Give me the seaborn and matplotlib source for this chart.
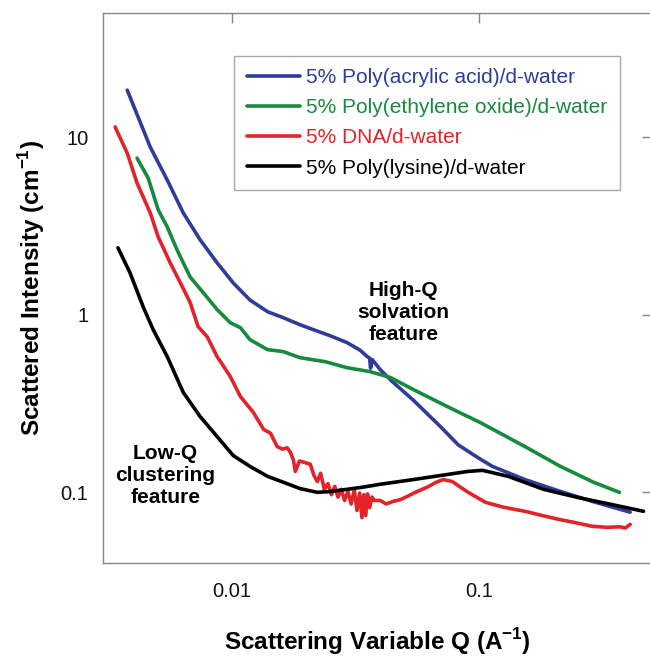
import seaborn as sns
import matplotlib.pyplot as plt
import pandas as pd

# Poly(acrylic acid)
q_paa = [0.00376, 0.00466, 0.00546, 0.00634, 0.00742, 0.00869, 0.0101, 0.0118, 0.0139, 0.0161,
         0.0188, 0.0213, 0.0250, 0.0292, 0.0330, 0.0352, 0.0360, 0.0363, 0.0369, 0.0397,
         0.0445, 0.0541, 0.0695, 0.0822, 0.100, 0.113, 0.153, 0.209, 0.286, 0.408]
i_paa = [18.4, 8.79, 5.73, 3.74, 2.64, 1.96, 1.51, 1.21, 1.04, 0.962,
         0.879, 0.824, 0.76, 0.696, 0.63, 0.581, 0.57, 0.50, 0.559, 0.491,
         0.42, 0.33, 0.235, 0.185, 0.155, 0.140, 0.118, 0.102, 0.089, 0.0773]

# Poly(ethylene oxide)
q_peo = [0.00412, 0.00457, 0.00502, 0.00546, 0.00598, 0.00676, 0.00764, 0.00869, 0.00982, 0.0108,
         0.0118, 0.0139, 0.0161, 0.0188, 0.0238, 0.0292, 0.0362, 0.0437, 0.0541, 0.0742,
         0.101, 0.153, 0.213, 0.290, 0.369]
i_peo = [7.62, 5.88, 3.89, 3.12, 2.32, 1.63, 1.33, 1.07, 0.902, 0.845,
         0.724, 0.636, 0.620, 0.573, 0.544, 0.503, 0.478, 0.443, 0.379, 0.304,
         0.247, 0.181, 0.140, 0.114, 0.100]

# DNA
q_dna = [0.00336, 0.00376, 0.00412, 0.00466, 0.00502, 0.00561, 0.00628, 0.00676, 0.00728, 0.00792,
         0.00869, 0.00982, 0.0108, 0.0122, 0.0134, 0.0143, 0.0152, 0.0160, 0.0167, 0.0172,
         0.0177, 0.0180, 0.0187, 0.0194, 0.0207, 0.0214, 0.0221, 0.0228, 0.0236, 0.0244,
         0.0252, 0.0260, 0.0268, 0.0276, 0.0285, 0.0294, 0.0303, 0.0312, 0.0320, 0.0328,
         0.0335, 0.0341, 0.0347, 0.0353, 0.0360, 0.0368, 0.0376, 0.0397, 0.0420, 0.0449,
         0.0480, 0.0512, 0.0560, 0.0616, 0.0670, 0.0715, 0.0778, 0.0830, 0.0902, 0.106,
         0.125, 0.153, 0.180, 0.209, 0.245, 0.286, 0.330, 0.370, 0.390, 0.408]
i_dna = [11.4, 8.13, 5.52, 3.74, 2.74, 1.96, 1.44, 1.17, 0.857, 0.752,
         0.581, 0.449, 0.346, 0.281, 0.226, 0.215, 0.181, 0.175, 0.178, 0.168,
         0.152, 0.131, 0.150, 0.148, 0.144, 0.125, 0.115, 0.128, 0.104, 0.112,
         0.097, 0.108, 0.094, 0.104, 0.090, 0.101, 0.086, 0.103, 0.079, 0.099,
         0.072, 0.097, 0.074, 0.098, 0.082, 0.094, 0.090, 0.090, 0.086, 0.089,
         0.091, 0.095, 0.101, 0.107, 0.114, 0.118, 0.115, 0.108, 0.100, 0.0878,
         0.0825, 0.0782, 0.0740, 0.0705, 0.0675, 0.0644, 0.0635, 0.0640, 0.0630, 0.0660]

# Poly(lysine)
q_pl = [0.00345, 0.00386, 0.00436, 0.00479, 0.00546, 0.00634, 0.00742, 0.00869, 0.0101, 0.0118,
        0.0139, 0.0161, 0.0188, 0.0221, 0.0249, 0.0292, 0.0339, 0.0397, 0.0541, 0.0742,
        0.0894, 0.103, 0.131, 0.182, 0.249, 0.339, 0.462]
i_pl = [2.38, 1.72, 1.11, 0.823, 0.581, 0.365, 0.267, 0.206, 0.161, 0.140,
        0.123, 0.114, 0.105, 0.100, 0.101, 0.104, 0.107, 0.111, 0.118, 0.126,
        0.131, 0.133, 0.123, 0.104, 0.0937, 0.0857, 0.0782]

labels = ['5% Poly(acrylic acid)/d-water', '5% Poly(ethylene oxide)/d-water',
          '5% DNA/d-water', '5% Poly(lysine)/d-water']
colors = ['#2f3c99', '#168a3d', '#e3232a', '#000000']

frames = []
for lab, q, i in zip(labels, [q_paa, q_peo, q_dna, q_pl], [i_paa, i_peo, i_dna, i_pl]):
    frames.append(pd.DataFrame({'q': q, 'intensity': i, 'sample': lab}))
df = pd.concat(frames, ignore_index=True)

sns.set_style('white')
plt.rcParams['font.family'] = ['Liberation Sans', 'DejaVu Sans']
plt.rcParams['mathtext.fontset'] = 'custom'
plt.rcParams['mathtext.rm'] = 'Liberation Sans:bold'
plt.rcParams['mathtext.bf'] = 'Liberation Sans:bold'
plt.rcParams['text.color'] = 'black'
plt.rcParams['axes.labelcolor'] = 'black'

fig = plt.figure(figsize=(6.5, 6.56), dpi=100)
ax = fig.add_axes([103 / 650, 93 / 656, 549 / 650, 550 / 656])

sns.lineplot(data=df, x='q', y='intensity', hue='sample', hue_order=labels,
             palette=dict(zip(labels, colors)), estimator=None, sort=False,
             lw=2.6, ax=ax, legend=False)

ax.set_xscale('log')
ax.set_yscale('log')
ax.set_xlim(0.003, 0.5)
ax.set_ylim(0.04, 50)
ax.set_xticks([0.01, 0.1])
ax.set_xticklabels(['0.01', '0.1'])
ax.set_yticks([0.1, 1, 10])
ax.set_yticklabels(['0.1', '1', '10'])
ax.minorticks_off()
ax.tick_params(direction='in', length=7, width=1, color='#888888', labelsize=14.5,
               labelcolor='#111111', top=True, right=True)
ax.tick_params(axis='x', pad=13.5)
ax.tick_params(axis='y', pad=10.5)
for sp in ax.spines.values():
    sp.set_color('#888888')
    sp.set_linewidth(1)

ax.set_xlabel(r'Scattering Variable Q (A$^{\mathbf{-1}}$)', fontsize=17.5, fontweight='bold', labelpad=18)
ax.set_ylabel(r'Scattered Intensity (cm$^{\mathbf{-1}}$)', fontsize=17.5, fontweight='bold', labelpad=10)

handles = [plt.Line2D([], [], color=c, lw=2.6) for c in colors]
leg = ax.legend(handles, labels, loc='upper left', bbox_to_anchor=(0.239, 0.922),
                borderaxespad=0, fontsize=15, handlelength=2.55, handletextpad=0.3,
                labelspacing=0.53, borderpad=0.6, fancybox=False, framealpha=1,
                edgecolor='#aaaaaa', labelcolor='linecolor')
leg.get_frame().set_linewidth(1)

ax.text(0.0492, 1.026, 'High-Q\nsolvation\nfeature', ha='center', va='center',
        fontsize=15, fontweight='bold', linespacing=1.2)
ax.text(0.00536, 0.125, 'Low-Q\nclustering\nfeature', ha='center', va='center',
        fontsize=15, fontweight='bold', linespacing=1.2)

fig.savefig('out.png', dpi=100)
